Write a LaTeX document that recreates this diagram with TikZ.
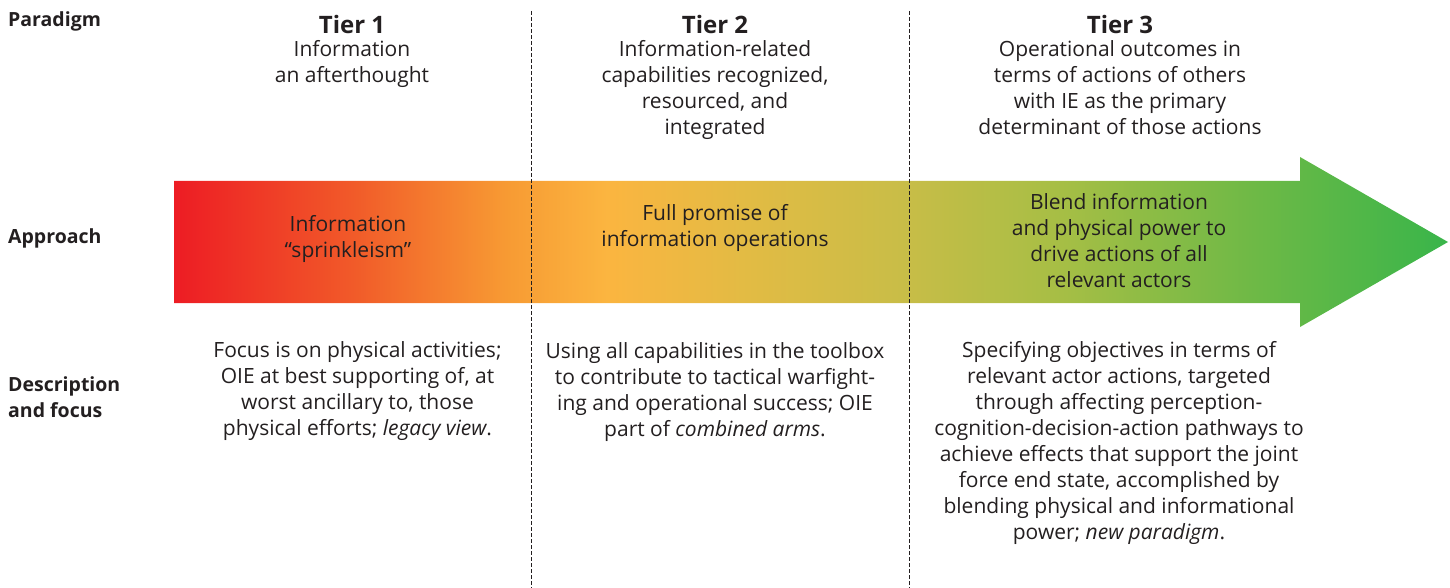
\documentclass[tikz,border=0pt]{standalone}
\usepackage{fontspec}
\setmainfont{Open Sans}
\definecolor{ink}{HTML}{231F20}
\definecolor{g0}{HTML}{ED1C24}
\definecolor{g1}{HTML}{F15A29}
\definecolor{g2}{HTML}{F79A33}
\definecolor{g3}{HTML}{FBB540}
\definecolor{g4}{HTML}{E2BB44}
\definecolor{g5}{HTML}{C9BD47}
\definecolor{g6}{HTML}{A5BE45}
\definecolor{g7}{HTML}{6DB946}
\definecolor{g8}{HTML}{39B54A}
% red-to-green ramp along the arrow (25bp..75bp spans the path)
\pgfdeclarehorizontalshading{tiergrad}{100bp}{%
  color(0bp)=(g0); color(25bp)=(g0); color(32bp)=(g1); color(38bp)=(g2);
  color(42bp)=(g3); color(47.5bp)=(g4); color(53.5bp)=(g5); color(60bp)=(g6);
  color(67.5bp)=(g7); color(75bp)=(g8); color(100bp)=(g8)}
\tikzset{
  body/.style={inner sep=0pt, anchor=north, align=center, text=ink,
    font=\fontsize{21}{26}\selectfont},
  rowlabel/.style={inner sep=0pt, anchor=north west, align=left, text=ink,
    font=\fontsize{19.5}{26}\selectfont\bfseries},
  tierhead/.style={inner sep=0pt, anchor=north, text=ink,
    font=\fontsize{24}{28}\selectfont\bfseries},
  divider/.style={draw=ink, line width=1pt, dash pattern=on 4pt off 2pt}
}
\begin{document}
\begin{tikzpicture}[x=1pt,y=-1pt]
\useasboundingbox (0,0) rectangle (1450,588);

% gradient arrow
\shade[shading=tiergrad] (174,181) -- (1300,181) -- (1300,157) -- (1448,242)
  -- (1300,327) -- (1300,303) -- (174,303) -- cycle;

% column dividers
\coordinate (d1t) at (531,11); \coordinate (d1b) at (531,588);
\coordinate (d2t) at (909,11); \coordinate (d2b) at (909,588);
\draw[divider] (d1t) -- (d1b);
\draw[divider] (d2t) -- (d2b);

% row labels
\node[rowlabel] (lparadigm) at (8,11.9) {Paradigm};
\node[rowlabel] (lapproach) at (8,228.2) {Approach};
\node[rowlabel] (ldesc) at (8,376.2) {Description\\and focus};

% tier headings
\node[tierhead] (h1) at (352,14.6) {Tier 1};
\node[tierhead] (h2) at (715,14.6) {Tier 2};
\node[tierhead] (h3) at (1120,14.6) {Tier 3};

% paradigm row
\node[body] (p1) at (352,40.0) {Information\\an afterthought};
\node[body] (p2) at (715,40.0) {Information-related\\capabilities recognized,\\resourced, and\\integrated};
\node[body] (p3) at (1120,40.0) {Operational outcomes in\\terms of actions of others\\with IE as the primary\\determinant of those actions};

% approach row
\node[body] (a1) at (348,215.0) {Information\\“sprinkleism”};
\node[body] (a2) at (715,204.0) {Full promise of\\information operations};
\node[body] (a3) at (1119,193.0) {Blend information\\and physical power to\\drive actions of all\\relevant actors};

% description row
\node[body] (f1) at (357.5,341.0) {Focus is on physical activities;\\OIE at best supporting of, at\\worst ancillary to, those\\physical efforts; \textit{legacy view}.};
\node[body] (f2) at (715,342.0) {Using all capabilities in the toolbox\\to contribute to tactical warfight-\\ing and operational success; OIE\\part of \textit{combined arms}.};
\node[body] (f3) at (1119,341.0) {Specifying objectives in terms of\\relevant actor actions, targeted\\through affecting perception-\\cognition-decision-action pathways to\\achieve effects that support the joint\\force end state, accomplished by\\blending physical and informational\\power; \textit{new paradigm}.};
\end{tikzpicture}
\end{document}
